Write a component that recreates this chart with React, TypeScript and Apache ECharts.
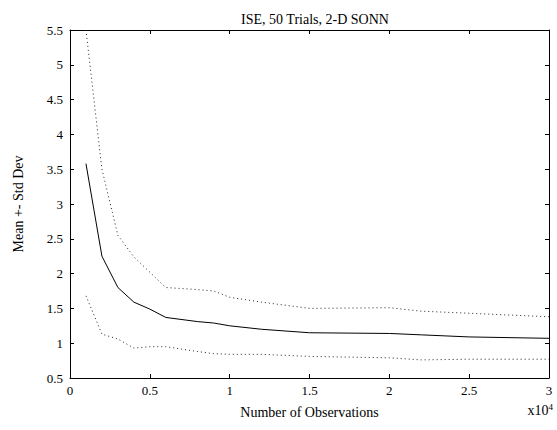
import React, { useEffect, useRef } from "react";
import * as echarts from "echarts";

const xValues = [0.1, 0.2, 0.3, 0.4, 0.5, 0.6, 0.8, 0.9, 1.0, 1.2, 1.5, 2.0, 2.2, 2.5, 3.0];
const meanValues = [3.58, 2.25, 1.8, 1.59, 1.49, 1.37, 1.31, 1.29, 1.25, 1.2, 1.15, 1.14, 1.12, 1.09, 1.07];
const upperValues = [5.5, 3.5, 2.55, 2.24, 2.02, 1.8, 1.77, 1.75, 1.66, 1.59, 1.5, 1.51, 1.46, 1.43, 1.38];
const lowerValues = [1.68, 1.13, 1.06, 0.93, 0.95, 0.95, 0.88, 0.85, 0.84, 0.84, 0.81, 0.79, 0.76, 0.77, 0.77];

const titleText = "ISE, 50 Trials, 2-D SONN";
const xAxisName = "Number of Observations";
const yAxisName = "Mean +- Std Dev";

const FONT = "'Liberation Serif', 'Times New Roman', serif";

export default function App() {
  const ref = useRef<HTMLDivElement>(null);
  useEffect(() => {
    if (!ref.current) return;
    const chart = echarts.init(ref.current, null, { renderer: "svg" });
    const pair = (ys: number[]) => xValues.map((x, i) => [x, ys[i]]);
    const axisLine = { show: true, onZero: false, lineStyle: { color: "#000", width: 1 } };
    const tick = { show: true, inside: true, length: 4, lineStyle: { color: "#000" } };
    chart.setOption({
      animation: false,
      backgroundColor: "#fff",
      textStyle: { fontFamily: FONT },
      title: {
        text: titleText,
        left: 310,
        top: 7,
        textAlign: "center",
        textStyle: { fontFamily: FONT, fontSize: 14, fontWeight: "normal", color: "#000" },
      },
      grid: { left: 70, top: 30, right: 8, bottom: 52 },
      xAxis: [
        {
          type: "value",
          min: 0,
          max: 3,
          interval: 0.5,
          position: "bottom",
          axisLine,
          axisTick: tick,
          splitLine: { show: false },
          axisLabel: { color: "#000", fontFamily: FONT, fontSize: 13, margin: 6 },
          name: xAxisName,
          nameLocation: "middle",
          nameGap: 27,
          nameTextStyle: { color: "#000", fontFamily: FONT, fontSize: 14 },
        },
        {
          type: "value",
          min: 0,
          max: 3,
          interval: 0.5,
          position: "top",
          axisLine,
          axisTick: tick,
          splitLine: { show: false },
          axisLabel: { show: false },
        },
      ],
      yAxis: [
        {
          type: "value",
          min: 0.5,
          max: 5.5,
          interval: 0.5,
          position: "left",
          axisLine,
          axisTick: tick,
          splitLine: { show: false },
          axisLabel: { color: "#000", fontFamily: FONT, fontSize: 13, margin: 7 },
          name: yAxisName,
          nameLocation: "middle",
          nameGap: 45,
          nameTextStyle: { color: "#000", fontFamily: FONT, fontSize: 14 },
        },
        {
          type: "value",
          min: 0.5,
          max: 5.5,
          interval: 0.5,
          position: "right",
          axisLine,
          axisTick: tick,
          splitLine: { show: false },
          axisLabel: { show: false },
        },
      ],
      graphic: [
        {
          type: "text",
          right: 4,
          top: 402,
          style: {
            text: "x10{sup|4}",
            fill: "#000",
            font: `14px ${FONT}`,
            rich: { sup: { fontSize: 9, verticalAlign: "top", padding: [0, 0, 7, 0], fontFamily: FONT, fill: "#000" } },
          },
        },
      ],
      series: [
        {
          type: "line",
          data: pair(meanValues),
          showSymbol: false,
          lineStyle: { color: "#000", width: 1, type: "solid" },
        },
        {
          type: "line",
          data: pair(upperValues),
          showSymbol: false,
          lineStyle: { color: "#222", width: 1, type: [1, 3] },
        },
        {
          type: "line",
          data: pair(lowerValues),
          showSymbol: false,
          lineStyle: { color: "#222", width: 1, type: [1, 3] },
        },
      ],
    });
    return () => chart.dispose();
  }, []);
  return <div ref={ref} style={{ width: 557, height: 430, position: "absolute", left: 0, top: 0 }} />;
}
